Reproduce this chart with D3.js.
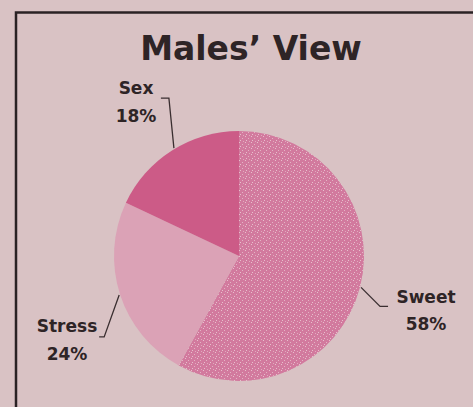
<!DOCTYPE html>
<html>
<head>
<meta charset="utf-8">
<script src="https://cdn.jsdelivr.net/npm/d3@7"></script>
<style>
  html, body { margin: 0; padding: 0; background: #d9c2c4; }
  svg { display: block; }
</style>
</head>
<body>
<div id="chart"></div>
<script>
// chart data
var categories = ["Sweet", "Stress", "Sex"];
var values = [58, 24, 18];
var labels = ["58%", "24%", "18%"];
var colors = ["url(#speckle)", "#dba2b6", "#cc5b87"];

var width = 473, height = 407;
var cx = 239, cy = 256, radius = 125;

var svg = d3.select("#chart")
  .append("svg")
    .attr("width", width)
    .attr("height", height);

// speckled fill for the big slice
var defs = svg.append("defs");
var pat = defs.append("pattern")
    .attr("id", "speckle")
    .attr("patternUnits", "userSpaceOnUse")
    .attr("width", 6)
    .attr("height", 6);
pat.append("rect").attr("width", 6).attr("height", 6).attr("fill", "#d27a9e");
pat.append("rect").attr("x", 0).attr("y", 0).attr("width", 1).attr("height", 1).attr("fill", "#e8bfcd");
pat.append("rect").attr("x", 3).attr("y", 2).attr("width", 1).attr("height", 1).attr("fill", "#e4b3c4");
pat.append("rect").attr("x", 1).attr("y", 4).attr("width", 1).attr("height", 1).attr("fill", "#e8bfcd");
pat.append("rect").attr("x", 4).attr("y", 5).attr("width", 1).attr("height", 1).attr("fill", "#e0aabd");

// frame
svg.append("path")
  .attr("d", "M16," + height + "V12.5H" + width)
  .attr("fill", "none")
  .attr("stroke", "#2a2224")
  .attr("stroke-width", 2.5);

// title
svg.append("text")
  .attr("x", 251)
  .attr("y", 60)
  .attr("text-anchor", "middle")
  .attr("font-family", "DejaVu Sans, sans-serif")
  .attr("font-weight", "bold")
  .attr("font-size", 33)
  .attr("fill", "#2e2426")
  .text("Males\u2019 View");

var pie = d3.pie().sort(null).value(function(d){ return d; });
var arc = d3.arc().innerRadius(0).outerRadius(radius);
var arcs = pie(values);

var g = svg.append("g")
  .attr("transform", "translate(" + cx + "," + cy + ")");

g.selectAll("path.slice")
  .data(arcs)
  .enter()
  .append("path")
    .attr("class", "slice")
    .attr("d", arc)
    .attr("fill", function(d, i){ return colors[i]; });

// leader lines: start on the rim, then bend toward the label
var rimPoint = function(angle, r) {
  return [cx + r * Math.sin(angle), cy - r * Math.cos(angle)];
};
var leaders = [
  { f: 0.50, dx: 19, dy: 19, tail: 8 },
  { f: 0.50, dx: -15, dy: 42, tail: -5 },
  { f: 0.52, dx: -5, dy: -50, tail: -8 }
];
var labelPos = [[426, 303, 330], [67, 332, 360], [136, 94, 122]];

leaders.forEach(function(l, i) {
  var a = arcs[i].startAngle + (arcs[i].endAngle - arcs[i].startAngle) * l.f;
  var p = rimPoint(a, radius + 1);
  var q = [p[0] + l.dx, p[1] + l.dy];
  svg.append("path")
    .attr("d", "M" + p[0] + "," + p[1] + "L" + q[0] + "," + q[1] + "H" + (q[0] + l.tail))
    .attr("fill", "none")
    .attr("stroke", "#3a2e30")
    .attr("stroke-width", 1.3);

  svg.append("text")
    .attr("x", labelPos[i][0])
    .attr("y", labelPos[i][1])
    .attr("text-anchor", "middle")
    .attr("font-family", "DejaVu Sans, sans-serif")
    .attr("font-weight", "bold")
    .attr("font-size", 17)
    .attr("fill", "#2e2426")
    .text(categories[i]);
  svg.append("text")
    .attr("x", labelPos[i][0])
    .attr("y", labelPos[i][2])
    .attr("text-anchor", "middle")
    .attr("font-family", "DejaVu Sans, sans-serif")
    .attr("font-weight", "bold")
    .attr("font-size", 17)
    .attr("fill", "#2e2426")
    .text(labels[i]);
});
</script>
</body>
</html>
